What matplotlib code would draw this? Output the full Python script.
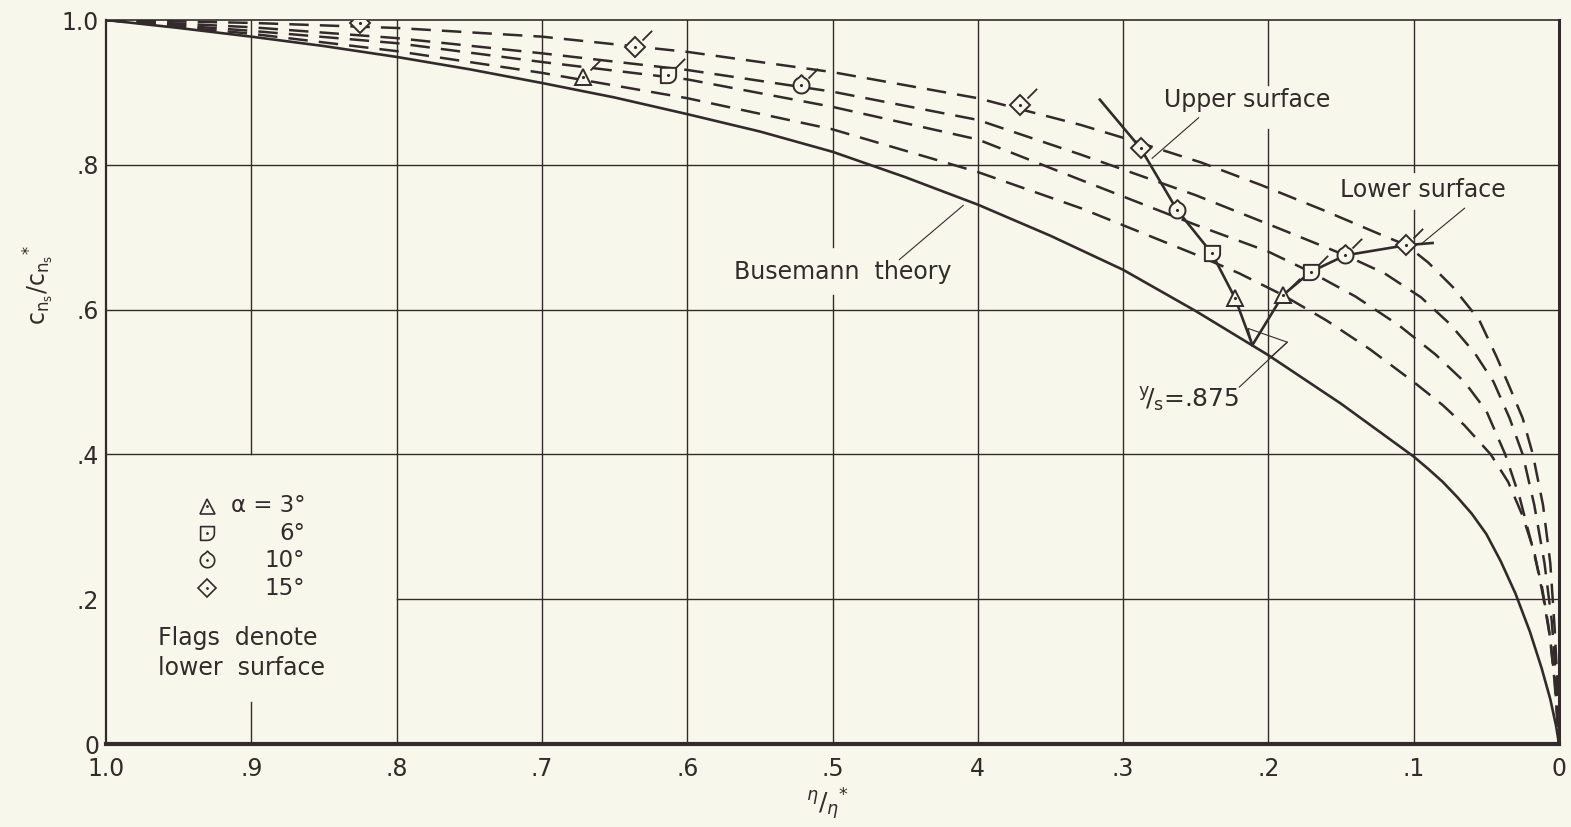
import numpy as np
import matplotlib
matplotlib.use("Agg")
import matplotlib.pyplot as plt
from matplotlib.path import Path

# ── Daten ─────────────────────────────────────────────
eta = [1.0, 0.95, 0.9, 0.85, 0.8, 0.75, 0.7, 0.65, 0.6, 0.55, 0.5, 0.45, 0.4, 0.35, 0.3,
       0.25, 0.2, 0.15, 0.1, 0.09, 0.08, 0.07, 0.06, 0.05, 0.04, 0.03, 0.02, 0.012, 0.006, 0.002, 0.0]
busemann = [1.0, 0.989, 0.977, 0.964, 0.949, 0.932, 0.913, 0.893, 0.870, 0.846, 0.818, 0.783, 0.745, 0.702, 0.655,
            0.598, 0.537, 0.470, 0.397, 0.380, 0.362, 0.341, 0.318, 0.290, 0.252, 0.208, 0.155, 0.105, 0.062, 0.025, 0.0]

d1_x = [1.0, 0.9, 0.8, 0.7, 0.6, 0.5, 0.4, 0.329, 0.288, 0.246, 0.205, 0.163, 0.122, 0.105, 0.09,
        0.073, 0.055, 0.043, 0.034, 0.025, 0.018, 0.011, 0.006, 0.003, 0.001, 0.0]
d1_y = [1.0, 0.996, 0.989, 0.977, 0.956, 0.928, 0.892, 0.855, 0.830, 0.803, 0.772, 0.738, 0.703, 0.689, 0.665,
        0.631, 0.586, 0.535, 0.493, 0.450, 0.400, 0.330, 0.250, 0.160, 0.080, 0.0]
d2_x = [1.0, 0.9, 0.8, 0.7, 0.6, 0.5, 0.4, 0.329, 0.25, 0.2, 0.147, 0.12, 0.095, 0.075, 0.058,
        0.045, 0.034, 0.025, 0.017, 0.010, 0.005, 0.002, 0.0]
d2_y = [1.0, 0.990, 0.975, 0.954, 0.931, 0.901, 0.862, 0.814, 0.758, 0.718, 0.675, 0.650, 0.617, 0.580, 0.540,
        0.500, 0.450, 0.400, 0.330, 0.250, 0.170, 0.090, 0.0]
d3_x = [1.0, 0.9, 0.8, 0.7, 0.6, 0.5, 0.4, 0.329, 0.25, 0.2, 0.171, 0.14, 0.11, 0.085, 0.065,
        0.05, 0.037, 0.027, 0.018, 0.012, 0.007, 0.003, 0.0]
d3_y = [1.0, 0.985, 0.968, 0.942, 0.918, 0.880, 0.835, 0.779, 0.717, 0.680, 0.652, 0.618, 0.578, 0.538, 0.500,
        0.460, 0.400, 0.340, 0.270, 0.220, 0.160, 0.090, 0.0]
d4_x = [1.0, 0.9, 0.8, 0.7, 0.6, 0.5, 0.4, 0.329, 0.25, 0.22, 0.19, 0.16, 0.13, 0.10, 0.08,
        0.065, 0.047, 0.035, 0.025, 0.017, 0.011, 0.006, 0.003, 0.0]
d4_y = [1.0, 0.981, 0.957, 0.927, 0.892, 0.849, 0.790, 0.740, 0.676, 0.650, 0.620, 0.585, 0.545, 0.500, 0.468,
        0.440, 0.400, 0.362, 0.315, 0.265, 0.205, 0.145, 0.085, 0.0]

# Station y/s = .875: Oberseite / Unterseite (alpha = 3, 6, 10, 15)
upper_x = [0.316, 0.288, 0.263, 0.239, 0.223, 0.211]
upper_y = [0.890, 0.823, 0.738, 0.678, 0.616, 0.551]
lower_x = [0.211, 0.190, 0.171, 0.147, 0.105, 0.087]
lower_y = [0.551, 0.620, 0.652, 0.675, 0.689, 0.692]
alphas = ["3", "6", "10", "15"]
upper_pts_x = [0.223, 0.239, 0.263, 0.288]
upper_pts_y = [0.616, 0.678, 0.738, 0.823]
lower_pts_x = [0.190, 0.171, 0.147, 0.105]
lower_pts_y = [0.620, 0.652, 0.675, 0.689]

# Einzelpunkte weiter innen
single_alpha = ["15", "15", "3", "6", "10", "15"]
single_x = [0.825, 0.636, 0.672, 0.613, 0.522, 0.371]
single_y = [0.996, 0.963, 0.921, 0.924, 0.910, 0.883]
single_flag = [False, True, True, True, True, True]

x_ticks = [1.0, 0.9, 0.8, 0.7, 0.6, 0.5, 0.4, 0.3, 0.2, 0.1, 0.0]
x_labels = ["1.0", ".9", ".8", ".7", ".6", ".5", "4", ".3", ".2", ".1", "0"]
y_ticks = [0, 0.2, 0.4, 0.6, 0.8, 1.0]
y_labels = ["0", ".2", ".4", ".6", ".8", "1.0"]

ink = "#332b2b"
paper = "#f8f7ec"
plt.rcParams["font.family"] = ["DejaVu Sans"]
plt.rcParams["lines.scale_dashes"] = False

# ── Marker ────────────────────────────────────────────
t = np.linspace(0, -np.pi / 2, 12)
half_verts = [(-1, 1), (1, 1)] + [(np.cos(a), np.sin(a)) for a in t] + [(-1, -1), (-1, 1)]
half_marker = Path(half_verts, closed=True)
t2 = np.linspace(np.radians(110), np.radians(110 + 320), 30)
circ_verts = [(np.cos(a), np.sin(a)) for a in t2] + [(0, 1.3), (np.cos(t2[0]), np.sin(t2[0]))]
circ_marker = Path(circ_verts)
flag_marker = Path([(0.42, 0.42), (1.0, 1.0)], [Path.MOVETO, Path.LINETO])

markers = {"3": ("^", 12), "6": (half_marker, 11), "10": (circ_marker, 15), "15": ("D", 10)}

fig = plt.figure(figsize=(15.71, 8.27), dpi=100, facecolor=paper)
ax = fig.add_axes([106 / 1571, 83 / 827, 1453 / 1571, 724 / 827], facecolor=paper)
ax.set_xlim(1.0, 0.0)
ax.set_ylim(0.0, 1.0)

# Gitter mit Aussparungen fuer die Beschriftung
vsegs = [(0.9, 0.4, 1.0), (0.9, 0.0, 0.058), (0.8, 0, 1), (0.7, 0, 1), (0.6, 0, 1),
         (0.5, 0, 0.62), (0.5, 0.686, 1), (0.4, 0, 1), (0.3, 0, 1),
         (0.2, 0, 0.85), (0.2, 0.91, 1), (0.1, 0, 0.738), (0.1, 0.79, 1)]
for x, a, b in vsegs:
    ax.plot([x, x], [a, b], color=ink, lw=1.0, zorder=1)
hsegs = [(0.2, 0.8, 0.0), (0.4, 1.0, 0.0), (0.6, 1.0, 0.0), (0.8, 1.0, 0.0)]
for y, a, b in hsegs:
    ax.plot([a, b], [y, y], color=ink, lw=1.0, zorder=1)

for side, w in [("left", 1.6), ("bottom", 3.0), ("right", 2.2), ("top", 1.2)]:
    ax.spines[side].set_linewidth(w)
    ax.spines[side].set_color(ink)

ax.plot(eta, busemann, color=ink, lw=1.9, zorder=3)
for xs, ys in [(d1_x, d1_y), (d2_x, d2_y), (d3_x, d3_y), (d4_x, d4_y)]:
    ax.plot(xs, ys, color=ink, lw=1.8, dashes=(14, 8), zorder=3)

ax.plot(upper_x, upper_y, color=ink, lw=1.9, zorder=4)
ax.plot(lower_x, lower_y, color=ink, lw=1.9, zorder=4)


def draw_pt(x, y, a, flag):
    m, ms = markers[a]
    ax.plot([x], [y], marker=m, ms=ms, mfc=paper, mec=ink, mew=1.4, ls="none", zorder=5)
    ax.plot([x], [y], marker=".", ms=2.5, color=ink, ls="none", zorder=6)
    if flag:
        ax.plot([x], [y], marker=flag_marker, ms=24, mec=ink, mew=1.3, ls="none", zorder=5)


for i, a in enumerate(alphas):
    draw_pt(upper_pts_x[i], upper_pts_y[i], a, False)
    draw_pt(lower_pts_x[i], lower_pts_y[i], a, True)
for x, y, a, f in zip(single_x, single_y, single_alpha, single_flag):
    draw_pt(x, y, a, f)

# Beschriftungen und Hinweislinien
lab = dict(fontsize=17, color=ink, va="center")
ax.text(0.493, 0.652, "Busemann  theory", ha="center", **lab)
ax.plot([0.410, 0.454], [0.744, 0.669], color=ink, lw=0.8)
ax.text(0.272, 0.890, "Upper surface", ha="left", **lab)
ax.plot([0.248, 0.280], [0.865, 0.809], color=ink, lw=0.8)
ax.text(0.151, 0.765, "Lower surface", ha="left", **lab)
ax.plot([0.065, 0.094], [0.740, 0.692], color=ink, lw=0.8)
ax.text(0.290, 0.475, r"$^{\mathregular{y}}\!/_{\mathregular{s}}$=.875", fontsize=18, color=ink,
        ha="left", va="center")
ax.plot([0.187, 0.220], [0.555, 0.493], color=ink, lw=0.8)
ax.plot([0.211, 0.214, 0.187, 0.198], [0.551, 0.574, 0.555, 0.535], color=ink, lw=0.8)

# Legende
leg_y = [0.329, 0.291, 0.254, 0.215]
for a, yy in zip(alphas, leg_y):
    m, ms = markers[a]
    ax.plot([0.0695], [yy], marker=m, ms=ms * 0.9, mfc=paper, mec=ink, mew=1.2,
            transform=ax.transAxes, ls="none")
    ax.plot([0.0695], [yy], marker=".", ms=2, color=ink, transform=ax.transAxes, ls="none")
ax.text(0.137, 0.329, "α = 3°", fontsize=16.5, color=ink, ha="right", va="center", transform=ax.transAxes)
for a, yy in zip(alphas[1:], leg_y[1:]):
    ax.text(0.137, yy, a + "°", fontsize=16.5, color=ink, ha="right", va="center", transform=ax.transAxes)
ax.text(0.036, 0.146, "Flags  denote", fontsize=17, color=ink, ha="left", va="center", transform=ax.transAxes)
ax.text(0.036, 0.105, "lower  surface", fontsize=17, color=ink, ha="left", va="center", transform=ax.transAxes)

ax.set_xticks(x_ticks)
ax.set_xticklabels(x_labels)
ax.set_yticks(y_ticks)
ax.set_yticklabels(y_labels)
ax.tick_params(length=0, labelsize=17, colors=ink)
ax.tick_params(axis="x", pad=9)
ax.tick_params(axis="y", pad=5)

fig.text(0.527, 0.028, r"$^{\eta}/_{\eta}{}^{*}$", fontsize=18, color=ink, ha="center", va="center")
fig.text(0.025, 0.655, r"$\mathregular{c_{n_s}/c_{n_s}{}^{*}}$", fontsize=17, color=ink, rotation=90,
         ha="center", va="center")

fig.savefig("out.png", dpi=100, facecolor=paper)
